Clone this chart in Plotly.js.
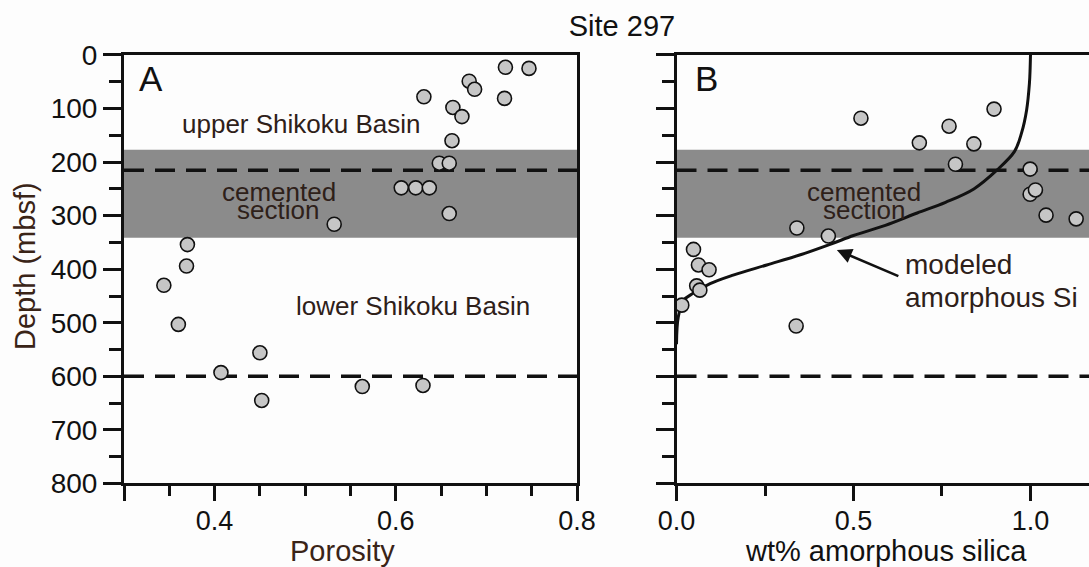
<!DOCTYPE html>
<html>
<head>
<meta charset="utf-8">
<script src="https://cdn.plot.ly/plotly-3.0.1.min.js"></script>
<style>
  html, body { margin: 0; padding: 0; background: #fdfdfd; overflow: hidden; }
  #chart { width: 1089px; height: 567px; }
</style>
</head>
<body>
<div id="chart"></div>
<script>
// Site 297: porosity (A) and amorphous silica (B) against depth below seafloor

// A - porosity measurements
const porosity      = [0.721, 0.747, 0.681, 0.687, 0.720, 0.631, 0.663, 0.673, 0.662, 0.648,
                       0.659, 0.606, 0.622, 0.637, 0.659, 0.532, 0.370, 0.369, 0.344, 0.360,
                       0.450, 0.407, 0.452, 0.563, 0.630];
const porosityDepth = [23, 25, 49, 64, 81, 78, 98, 115, 160, 202,
                       202, 248, 248, 248, 296, 316, 354, 394, 430, 503,
                       556, 593, 645, 619, 617];

// B - measured amorphous silica
const silica      = [0.521, 0.897, 0.770, 0.686, 0.840, 0.788, 0.999, 0.999, 1.014, 1.044,
                     1.129, 0.340, 0.429, 0.048, 0.062, 0.092, 0.057, 0.066, 0.015, 0.338];
const silicaDepth = [118, 101, 133, 164, 166, 204, 213, 260, 252, 299,
                     306, 323, 338, 363, 392, 401, 431, 439, 467, 506];

// B - modeled amorphous Si profile
const modelSilica = [1.000, 0.999, 0.997, 0.989, 0.975, 0.955, 0.905, 0.840, 0.760, 0.680,
                     0.590, 0.500, 0.440, 0.350, 0.255, 0.160, 0.095, 0.047, 0.020, 0.005, 0.000];
const modelDepth  = [0, 25, 53, 103, 145, 180, 215, 250, 275, 295,
                     318, 337, 352, 373, 392, 411, 427, 445, 458, 489, 540];

// Unit boundaries (mbsf)
const cementedTop  = 177;
const cementedBase = 341;
const unitBoundaries = [215, 600];

const FONT = 'Liberation Sans, Arial, Helvetica, sans-serif';
const INK = '#111111';
const LABEL = '#2e2019';

const markerStyle = {
  symbol: 'circle', size: 14, color: '#c6c6c6',
  line: { color: INK, width: 1.6 }
};

const traces = [
  {
    x: porosity, y: porosityDepth, xaxis: 'x', yaxis: 'y',
    type: 'scatter', mode: 'markers', marker: markerStyle,
    hoverinfo: 'x+y', showlegend: false
  },
  {
    x: modelSilica, y: modelDepth, xaxis: 'x2', yaxis: 'y2',
    type: 'scatter', mode: 'lines',
    line: { color: INK, width: 3, shape: 'spline', smoothing: 1 },
    hoverinfo: 'skip', showlegend: false
  },
  {
    x: silica, y: silicaDepth, xaxis: 'x2', yaxis: 'y2',
    type: 'scatter', mode: 'markers', marker: markerStyle,
    hoverinfo: 'x+y', showlegend: false
  }
];

// Shaded cemented section and dashed unit boundaries on both panels
const shapes = [];
[['x', 'y'], ['x2', 'y2']].forEach(([xa, ya]) => {
  shapes.push({
    type: 'rect', xref: xa + ' domain', yref: ya,
    x0: 0, x1: 1, y0: cementedTop, y1: cementedBase,
    fillcolor: '#8b8b8b', line: { width: 0 }, layer: 'below'
  });
  unitBoundaries.forEach(d => shapes.push({
    type: 'line', xref: xa + ' domain', yref: ya,
    x0: 0, x1: 1, y0: d, y1: d,
    line: { color: INK, width: 3.5, dash: '20px,11px' }, layer: 'below'
  }));
});

const yTickFont = { family: FONT, size: 28, color: INK };
const xTickFont = { family: FONT, size: 27, color: INK };

const depthAxis = {
  range: [800, 0], autorange: false,
  tickmode: 'linear', tick0: 0, dtick: 100,
  ticks: 'outside', ticklen: 18, tickwidth: 3, tickcolor: INK,
  minor: { tickmode: 'linear', tick0: 0, dtick: 50, ticks: 'outside', ticklen: 12, tickwidth: 3, tickcolor: INK },
  showline: true, linewidth: 3, linecolor: INK,
  showgrid: false, zeroline: false,
  tickfont: yTickFont,
  domain: [0.1473, 0.9030]
};

const txt = (text, xref, yref, x, y, size, extra) => Object.assign({
  text: text, xref: xref, yref: yref, x: x, y: y,
  showarrow: false, xanchor: 'center', yanchor: 'middle',
  font: { family: FONT, size: size, color: LABEL }
}, extra || {});

const annotations = [
  txt('A', 'x', 'y', 0.3144, 43, 35, { xanchor: 'left', font: { family: FONT, size: 35, color: INK } }),
  txt('B', 'x2', 'y2', 0.0466, 44, 35, { xanchor: 'left', font: { family: FONT, size: 35, color: INK } }),
  txt('upper Shikoku Basin', 'x', 'y', 0.4956, 128, 26),
  txt('lower Shikoku Basin', 'x', 'y', 0.619, 469, 26),
  txt('cemented', 'x', 'y', 0.471, 256, 26),
  txt('section', 'x', 'y', 0.4695, 289, 26),
  txt('cemented', 'x2', 'y2', 0.531, 256, 26),
  txt('section', 'x2', 'y2', 0.530, 289, 26),
  txt('modeled', 'x2', 'y2', 0.640, 392, 28, { xanchor: 'left' }),
  txt('amorphous Si', 'x2', 'y2', 0.640, 452, 28, { xanchor: 'left' }),
  {
    x: 0.453, y: 364, xref: 'x2', yref: 'y2',
    ax: 0.631, ay: 414, axref: 'x2', ayref: 'y2',
    text: '', showarrow: true, arrowhead: 2, arrowsize: 1.15, arrowwidth: 2.6,
    arrowcolor: INK, standoff: 0
  },
  // axis titles
  txt('Depth (mbsf)', 'paper', 'paper', 25 / 1089, 1 - 266 / 567, 29, { textangle: -90, font: { family: FONT, size: 29, color: '#3a2417' } }),
  txt('Porosity', 'paper', 'paper', 342 / 1089, 1 - 551 / 567, 29, { font: { family: FONT, size: 29, color: '#3a2417' } }),
  txt('wt% amorphous silica', 'paper', 'paper', 886 / 1089, 1 - 551 / 567, 29, { font: { family: FONT, size: 29, color: INK } })
];

const layout = {
  width: 1089, height: 567,
  margin: { l: 0, r: 0, t: 0, b: 0, pad: 0 },
  paper_bgcolor: '#fdfdfd', plot_bgcolor: 'rgba(0,0,0,0)',
  font: { family: FONT, color: INK },
  title: {
    text: 'Site 297', x: 622 / 1089, y: 1 - 26 / 567,
    xanchor: 'center', yanchor: 'middle', xref: 'paper', yref: 'paper',
    font: { family: FONT, size: 29, color: INK }
  },
  xaxis: {
    domain: [124 / 1089, 577 / 1089], anchor: 'y',
    range: [0.3, 0.8], autorange: false,
    tickmode: 'array', tickvals: [0.3, 0.4, 0.6, 0.8], ticktext: ['', '0.4', '0.6', '0.8'],
    ticks: 'outside', ticklen: 15, tickwidth: 3, tickcolor: INK, ticklabelstandoff: -4,
    minor: { tickmode: 'linear', tick0: 0.3, dtick: 0.05, ticks: 'outside', ticklen: 10, tickwidth: 3, tickcolor: INK },
    showline: true, linewidth: 3, linecolor: INK, mirror: true,
    showgrid: false, zeroline: false, tickfont: xTickFont
  },
  yaxis: Object.assign({}, depthAxis, { anchor: 'x', mirror: true }),
  xaxis2: {
    domain: [676.5 / 1089, 1], anchor: 'y2',
    range: [0, 1.1653], autorange: false,
    tickmode: 'array', tickvals: [0, 0.5, 1.0], ticktext: ['0.0', '0.5', '1.0'],
    ticks: 'outside', ticklen: 15, tickwidth: 3, tickcolor: INK, ticklabelstandoff: -4,
    minor: { tickmode: 'linear', tick0: 0, dtick: 0.25, ticks: 'outside', ticklen: 10, tickwidth: 3, tickcolor: INK },
    showline: true, linewidth: 3, linecolor: INK, mirror: true,
    showgrid: false, zeroline: false, tickfont: xTickFont
  },
  yaxis2: Object.assign({}, depthAxis, { anchor: 'x2', showticklabels: false, mirror: false }),
  shapes: shapes,
  annotations: annotations,
  showlegend: false
};

Plotly.newPlot('chart', traces, layout, { displayModeBar: false, staticPlot: true });
</script>
</body>
</html>
